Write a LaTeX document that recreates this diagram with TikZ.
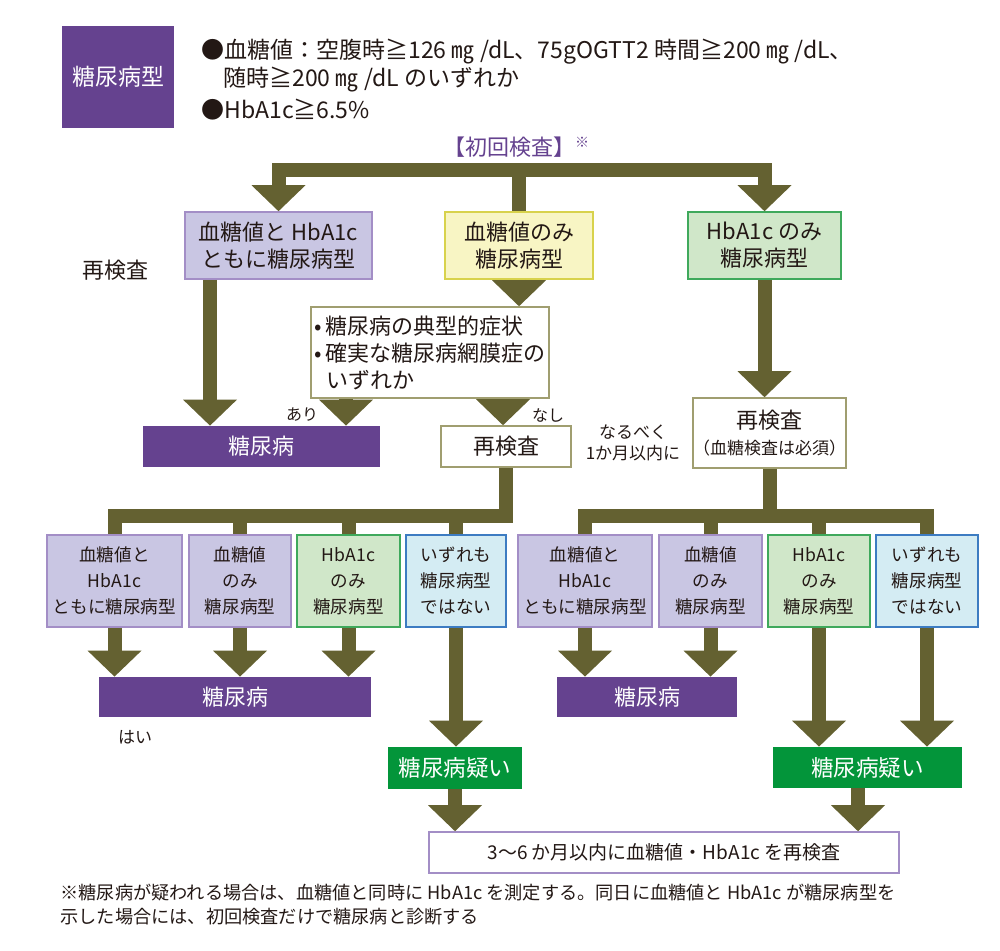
\documentclass[tikz,border=0pt]{standalone}
\usepackage{fontspec}
\setmainfont{Noto Sans CJK JP}
\usetikzlibrary{arrows.meta}
\definecolor{olivearr}{HTML}{646131}
\definecolor{dmpurple}{HTML}{65428F}
\definecolor{lavfill}{HTML}{C9C6E3}
\definecolor{lavline}{HTML}{A38EC6}
\definecolor{yelfill}{HTML}{F8F5C4}
\definecolor{yelline}{HTML}{D8D24C}
\definecolor{grnfill}{HTML}{D0E7C9}
\definecolor{grnline}{HTML}{3FA95C}
\definecolor{blufill}{HTML}{D4ECF3}
\definecolor{bluline}{HTML}{3D7CC2}
\definecolor{dkgreen}{HTML}{03953A}
\definecolor{wline}{HTML}{A09E70}
\definecolor{txt}{HTML}{231815}
\tikzset{>/.tip={Triangle[length=13pt,width=27pt,line width=0pt]},
  flow/.style={draw=olivearr,line width=7pt},
  sz/.style 2 args={minimum width=#1*0.5pt,minimum height=#2*0.5pt,inner sep=0pt},
  big/.style={font=\fontsize{11}{13.5}\selectfont,align=center,text=txt},
  crit/.style={font=\fontsize{11.5}{14}\selectfont,anchor=west,inner sep=0pt,text=txt},
  small/.style={font=\fontsize{8.8}{13}\selectfont,align=center,text=txt},
  note/.style={font=\fontsize{8}{10.5}\selectfont,align=center,text=txt},
  lav/.style={draw=lavline,fill=lavfill,line width=0.8pt},
  yel/.style={draw=yelline,fill=yelfill,line width=0.8pt},
  grn/.style={draw=grnline,fill=grnfill,line width=0.8pt},
  blu/.style={draw=bluline,fill=blufill,line width=0.8pt},
  wht/.style={draw=wline,fill=white,line width=0.8pt},
  dm/.style={fill=dmpurple,text=white,font=\fontsize{11}{13.5}\selectfont},
  sus/.style={fill=dkgreen,text=white,font=\fontsize{11.3}{13.5}\selectfont}}

\begin{document}
\begin{tikzpicture}[x=0.5pt,y=-0.5pt]
\useasboundingbox (0,0) rectangle (1000,950);

\node[dm,sz={112}{102},font=\fontsize{11.5}{14}\selectfont] (legend) at (118,77) {糖尿病型};
\node[crit] (c1) at (201,52) {●血糖値：空腹時≧126 ㎎ /dL、75gOGTT2 時間≧200 ㎎ /dL、};
\node[crit] (c2) at (223,80) {随時≧200 ㎎ /dL のいずれか};
\node[crit] (c3) at (201,110) {●HbA1c≧6.5\%};
\node[big,text=dmpurple] (init) at (516,147) {【初回検査】{\fontsize{7}{7}\selectfont\raisebox{4pt}{※}}};

\node[lav,big,sz={187}{67}] (a1) at (278.5,245.5) {血糖値と HbA1c\\ともに糖尿病型};
\node[yel,big,sz={148}{67}] (a2) at (519,245.5) {血糖値のみ\\糖尿病型};
\node[grn,big,sz={153}{67}] (a3) at (764.5,245.5) {HbA1c のみ\\糖尿病型};
\node[big] (re0) at (115,270) {再検査};

\node[wht,big,sz={238}{91},align=left] (d) at (430,352.5) {\makebox[6pt][l]{•}糖尿病の典型的症状\\\makebox[6pt][l]{•}確実な糖尿病網膜症の\\\hspace*{6pt}いずれか};
\node[dm,sz={237}{41}] (e) at (261.5,446.5) {糖尿病};
\node[wht,big,sz={130}{41}] (f) at (506,446.5) {再検査};
\node[wht,sz={153}{70},text=txt,align=center] (g) at (769.5,433) {{\fontsize{11}{13.5}\selectfont 再検査}\\[1pt]{\fontsize{8.5}{10}\selectfont （血糖検査は必須）}};
\node[note] (ari) at (302,415) {あり};
\node[note] (nashi) at (548,415) {なし};
\node[note,font=\fontsize{8.5}{10.5}\selectfont] (soon) at (633,443) {なるべく\\1か月以内に};

\node[lav,small,sz={135}{92}] (l1) at (114.5,581) {血糖値と\\HbA1c\\ともに糖尿病型};
\node[lav,small,sz={102}{92}] (l2) at (240,581) {血糖値\\のみ\\糖尿病型};
\node[grn,small,sz={103}{92}] (l3) at (348.5,581) {HbA1c\\のみ\\糖尿病型};
\node[blu,small,sz={100}{92}] (l4) at (456,581) {いずれも\\糖尿病型\\ではない};
\node[lav,small,sz={134}{92}] (r1) at (585,581) {血糖値と\\HbA1c\\ともに糖尿病型};
\node[lav,small,sz={103}{92}] (r2) at (710.5,581) {血糖値\\のみ\\糖尿病型};
\node[grn,small,sz={102}{92}] (r3) at (819,581) {HbA1c\\のみ\\糖尿病型};
\node[blu,small,sz={102}{92}] (r4) at (927,581) {いずれも\\糖尿病型\\ではない};

\node[dm,sz={272}{40}] (le) at (235,697) {糖尿病};
\node[dm,sz={180}{40}] (re) at (647,697) {糖尿病};
\node[note,font=\fontsize{8.5}{10.5}\selectfont] (hai) at (135,737) {はい};
\node[sus,sz={134}{42}] (sl) at (455,768) {糖尿病疑い};
\node[sus,sz={189}{41}] (sr) at (867.5,767.5) {糖尿病疑い};
\node[draw=lavline,line width=0.8pt,sz={470}{41},text=txt,font=\fontsize{9.5}{12}\selectfont] (bb) at (664,852.5) {3～6 か月以内に血糖値・HbA1c を再検査};
\node[anchor=west,align=left,text=txt,font=\fontsize{9.1}{12}\selectfont,inner sep=0pt] (foot) at (60,905) {※糖尿病が疑われる場合は、血糖値と同時に HbA1c を測定する。同日に血糖値と HbA1c が糖尿病型を\\示した場合には、初回検査だけで糖尿病と診断する};

\coordinate (j0) at (519,170);
\coordinate (j1) at (506,516);
\coordinate (ae) at (210,0);
\coordinate (de) at (346,0);
\coordinate (df) at (503,0);
\coordinate (sb) at (858,0);

\draw[flow,->] (j0) -| (a1.north);
\draw[flow,->] (j0) -| (a3.north);
\draw[flow] (j0) -- (a2.north);
\draw[flow,->] (a1.south -| ae) -- (e.north -| ae);
\draw[flow,->] (a2.south) -- (a2.south |- d.north);
\draw[flow,->] (d.south -| de) -- (e.north -| de);
\draw[flow,->] (d.south -| df) -- (f.north -| df);
\draw[flow,->] (a3.south) -- (a3.south |- g.north);

\draw[flow] (f.south) -- (j1) -| (l1.north);
\draw[flow] (j1 -| l2) -- (l2.north);
\draw[flow] (j1 -| l3) -- (l3.north);
\draw[flow] (j1 -| l4) -- (l4.north);
\draw[flow] (g.south) -- (g.south |- j1) -| (r1.north);
\draw[flow] (g.south |- j1) -| (r4.north);
\draw[flow] (j1 -| r2) -- (r2.north);
\draw[flow] (j1 -| r3) -- (r3.north);

\draw[flow,->] (l1.south) -- (l1.south |- le.north);
\draw[flow,->] (l2.south) -- (l2.south |- le.north);
\draw[flow,->] (l3.south) -- (l3.south |- le.north);
\draw[flow,->] (l4.south) -- (l4.south |- sl.north);
\draw[flow,->] (r1.south) -- (r1.south |- re.north);
\draw[flow,->] (r2.south) -- (r2.south |- re.north);
\draw[flow,->] (r3.south) -- (r3.south |- sr.north);
\draw[flow,->] (r4.south) -- (r4.south |- sr.north);
\draw[flow,->] (sl.south) -- (sl.south |- bb.north);
\draw[flow,->] (sr.south -| sb) -- (bb.north -| sb);
\end{tikzpicture}
\end{document}
